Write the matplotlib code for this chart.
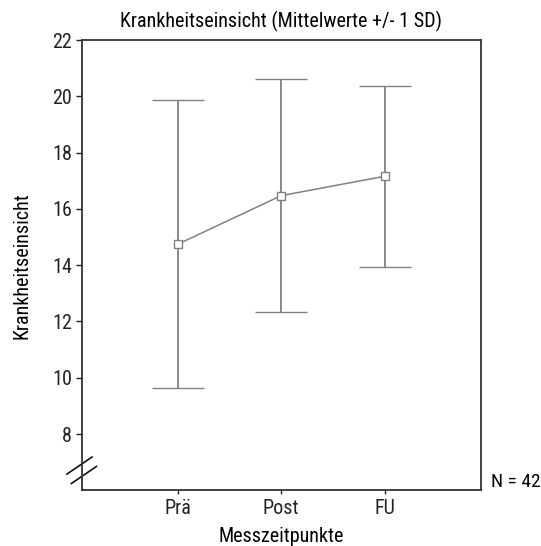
import matplotlib
matplotlib.use("Agg")
import matplotlib.pyplot as plt
from matplotlib import font_manager as fm
from matplotlib.lines import Line2D

names = {f.name for f in fm.fontManager.ttflist}
fam = "Lato"
for cand in ["Liberation Sans Narrow", "Roboto Condensed", "Open Sans Condensed", "Lato"]:
    if cand in names:
        fam = cand
        break
plt.rcParams['font.family'] = [fam, 'DejaVu Sans']

categories = ["Prä", "Post", "FU"]
means = [14.74, 16.47, 17.16]
sds = [5.12, 4.15, 3.22]
yticks = [8, 10, 12, 14, 16, 18, 20, 22]
title = "Krankheitseinsicht (Mittelwerte +/- 1 SD)"
n_label = "N = 42"

fig = plt.figure(figsize=(5.41, 5.46), dpi=100)
ax = fig.add_axes([0.151, 0.102, 0.8885 - 0.151, 0.9267 - 0.102])
x = list(range(1, len(categories) + 1))
gray = "#808080"
ax.errorbar(x, means, yerr=sds, fmt="s-", color=gray, ecolor=gray, elinewidth=1.3,
            capsize=18.7, capthick=1.3, lw=1.1, markersize=6, markerfacecolor="white",
            markeredgecolor=gray, markeredgewidth=1.0)
ax.set_xlim(0.075, 3.925)
ax.set_ylim(6, 22)
ax.set_yticks(yticks)
ax.set_yticklabels([str(t) for t in yticks])
ax.set_xticks(x)
ax.set_xticklabels(categories)
ax.tick_params(axis="both", labelsize=14.5, direction="out", length=4, width=1, colors="#222222",
               pad=3)
ax.tick_params(axis="x", length=3)
for s in ax.spines.values():
    s.set_color("#333333")
    s.set_linewidth(1.3)
ax.set_title(title, fontsize=14.5, pad=9)
ax.set_xlabel("Messzeitpunkte", fontsize=14.5, labelpad=7)
ax.set_ylabel("Krankheitseinsicht", fontsize=14.5, labelpad=15)

# axis break marks
for dx, dy in ((0.0, 0.0), (0.011, -0.021)):
    ax.add_line(Line2D([-0.037 + dx, 0.026 + dx], [0.036 + dy, 0.074 + dy], transform=ax.transAxes,
                       color="#111111", lw=1.2, clip_on=False))

ax.text(1.025, 0.019, n_label, transform=ax.transAxes, fontsize=14, ha="left", va="center")

fig.savefig("out.png", dpi=100)
